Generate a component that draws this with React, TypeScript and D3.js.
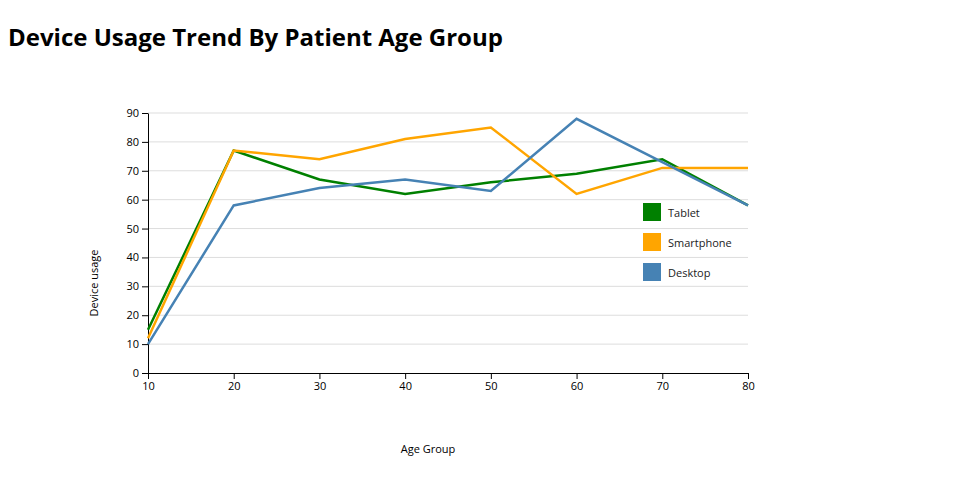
import React, { useEffect, useRef } from "react";
import * as d3 from "d3";

const ageGroups = [10, 20, 30, 40, 50, 60, 70, 80];
const tablet = [15, 77, 67, 62, 66, 69, 74, 58];
const smartphone = [12, 77, 74, 81, 85, 62, 71, 71];
const desktop = [10, 58, 64, 67, 63, 88, 73, 58];
const seriesNames = ["Tablet", "Smartphone", "Desktop"];
const seriesColors = ["green", "orange", "steelblue"];
const yTicks = [0, 10, 20, 30, 40, 50, 60, 70, 80, 90];

export default function App() {
  const ref = useRef<SVGSVGElement>(null);
  useEffect(() => {
    const svg = d3.select(ref.current);
    svg.selectAll("*").remove();
    const font = "'Open Sans', sans-serif";
    const left = 148, right = 748, top = 113, bottom = 373;
    const x = d3.scaleLinear().domain([10, 80]).range([left, right]);
    const y = d3.scaleLinear().domain([0, 90]).range([bottom, top]);

    svg.append("text").attr("x", 8).attr("y", 46).attr("font-family", font)
      .attr("font-weight", 700).attr("font-size", 24).attr("fill", "#000")
      .text("Device Usage Trend By Patient Age Group");

    // grid
    svg.append("g").selectAll("line").data(yTicks.slice(1)).join("line")
      .attr("x1", left).attr("x2", right)
      .attr("y1", (d) => y(d)).attr("y2", (d) => y(d))
      .attr("stroke", "#ddd").attr("stroke-width", 1);

    const gx = svg.append("g").attr("transform", `translate(0,${bottom})`)
      .call(d3.axisBottom(x).tickValues(ageGroups).tickSizeOuter(0));
    const gy = svg.append("g").attr("transform", `translate(${left},0)`)
      .call(d3.axisLeft(y).tickValues(yTicks).tickSizeOuter(0));
    [gx, gy].forEach((g) => {
      g.selectAll("text").attr("font-family", font).attr("font-size", 11).attr("fill", "#000");
      g.selectAll("line").attr("stroke", "#000");
      g.select(".domain").attr("stroke", "#000");
    });

    const all = [tablet, smartphone, desktop];
    const line = d3.line<number>().x((_, i) => x(ageGroups[i])).y((d) => y(d));
    all.forEach((s, i) => {
      svg.append("path").datum(s).attr("d", line).attr("fill", "none")
        .attr("stroke", seriesColors[i]).attr("stroke-width", 2.5);
    });

    const lg = svg.append("g");
    seriesNames.forEach((n, i) => {
      lg.append("rect").attr("x", 643).attr("y", 203 + i * 30).attr("width", 18).attr("height", 18)
        .attr("fill", seriesColors[i]);
      lg.append("text").attr("x", 668).attr("y", 213 + i * 30).attr("dy", "0.35em")
        .attr("font-family", font).attr("font-size", 11).attr("fill", "#222").text(n);
    });

    svg.append("text").attr("x", 428).attr("y", 453).attr("text-anchor", "middle")
      .attr("font-family", font).attr("font-size", 11).attr("fill", "#000").text("Age Group");
    svg.append("text").attr("transform", `translate(98,283) rotate(-90)`).attr("text-anchor", "middle")
      .attr("font-family", font).attr("font-size", 11).attr("fill", "#000").text("Device usage");
  }, []);
  return (
    <svg ref={ref} width={960} height={500}
      style={{ position: "absolute", left: 0, top: 0, background: "#fff" }} />
  );
}
